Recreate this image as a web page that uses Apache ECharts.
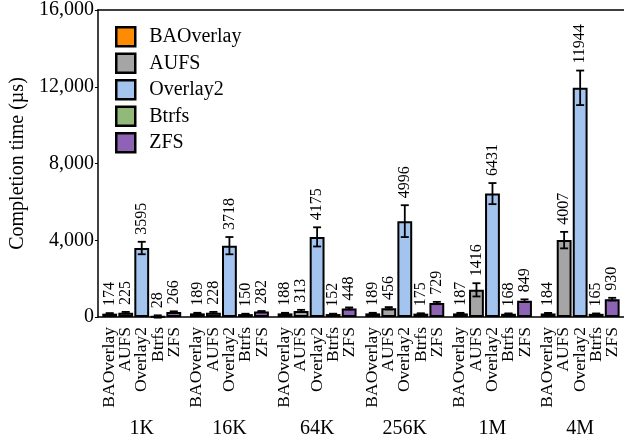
<!DOCTYPE html>
<html>
<head>
<meta charset="utf-8">
<script src="https://cdn.jsdelivr.net/npm/echarts@6/dist/echarts.min.js"></script>
<style>html,body{margin:0;padding:0;background:#fff}#c{width:624px;height:440px}</style>
</head>
<body>
<div id="c"></div>
<script>
const categories = ['1K', '16K', '64K', '256K', '1M', '4M'];
const seriesNames = ['BAOverlay', 'AUFS', 'Overlay2', 'Btrfs', 'ZFS'];
const baoverlay = [174, 189, 188, 189, 187, 184];
const aufs = [225, 228, 313, 456, 1416, 4007];
const overlay2 = [3595, 3718, 4175, 4996, 6431, 11944];
const btrfs = [28, 150, 152, 175, 168, 165];
const zfs = [266, 282, 448, 729, 849, 930];
const baoverlayErr = [30, 30, 30, 30, 30, 30];
const aufsErr = [40, 40, 60, 60, 345, 430];
const overlay2Err = [325, 450, 500, 830, 550, 900];
const btrfsErr = [60, 20, 20, 20, 20, 20];
const zfsErr = [30, 30, 50, 60, 70, 70];
const yTicks = [0, 4000, 8000, 12000, 16000];

const values = [baoverlay, aufs, overlay2, btrfs, zfs];
const errors = [baoverlayErr, aufsErr, overlay2Err, btrfsErr, zfsErr];
const colors = ['#ff8c00', '#a5a5a5', '#a4c4f0', '#93b97a', '#8e62b5'];
const FONT = 'Liberation Serif';
const CAT_GAP = 0.10, BAR_GAP = 0.08;

const chart = echarts.init(document.getElementById('c'), null, {renderer: 'canvas'});

const barSeries = seriesNames.map((n, i) => ({
  name: n, type: 'bar', data: values[i],
  barCategoryGap: (CAT_GAP * 100) + '%', barGap: (BAR_GAP * 100) + '%',
  itemStyle: {color: colors[i], borderColor: '#000', borderWidth: 2},
  emphasis: {disabled: true}
}));

const errSeries = seriesNames.map((n, i) => ({
  type: 'custom', name: n + '_err', silent: true, z: 5,
  data: values[i].map((v, k) => [k, v, errors[i][k]]),
  renderItem: function (params, api) {
    const k = api.value(0), v = api.value(1), e = api.value(2);
    const band = api.size([1, 0])[0];
    const w = band * (1 - CAT_GAP) / (5 + 4 * BAR_GAP);
    const pitch = w * (1 + BAR_GAP);
    const c = api.coord([k, v]);
    const x = c[0] + (i - 2) * pitch;
    const top = api.coord([k, v + e])[1];
    const bot = api.coord([k, v - e])[1];
    const cap = 4;
    const st = {stroke: '#000', lineWidth: 1.8};
    return {type: 'group', children: [
      {type: 'line', shape: {x1: x, y1: top, x2: x, y2: bot}, style: st},
      {type: 'line', shape: {x1: x - cap, y1: top, x2: x + cap, y2: top}, style: st},
      {type: 'line', shape: {x1: x - cap, y1: bot, x2: x + cap, y2: bot}, style: st},
      {type: 'text', x: x, y: top - 7, rotation: Math.PI / 2,
       style: {text: String(v), align: 'left', verticalAlign: 'middle',
               font: '16px "' + FONT + '"', fill: '#000'}}
    ]};
  }
}));

chart.setOption({
  animation: false,
  textStyle: {fontFamily: FONT, color: '#000'},
  grid: {left: 88, right: 0, top: 6, bottom: 123, containLabel: false},
  legend: {
    data: seriesNames, orient: 'vertical', left: 115, top: 26, padding: 0,
    itemWidth: 19, itemHeight: 19, itemGap: 5, icon: 'rect',
    itemStyle: {borderColor: '#000', borderWidth: 2.5},
    textStyle: {fontFamily: FONT, fontSize: 20, lineHeight: 19, color: '#000', padding: [0, 0, 0, 9]}
  },
  xAxis: [
    {type: 'category', data: categories, position: 'bottom',
     axisLine: {show: true, lineStyle: {color: '#000', width: 1.5}},
     axisTick: {show: false},
     axisLabel: {interval: 0, rotate: 90, margin: 10, fontFamily: FONT, fontSize: 17.5,
       color: '#000', lineHeight: 16.3,
       formatter: () => seriesNames.join('\n')}},
    {type: 'category', data: categories, position: 'bottom',
     axisLine: {show: false}, axisTick: {show: false},
     axisLabel: {interval: 0, margin: 102, fontFamily: FONT, fontSize: 20, color: '#000'}},
    {type: 'category', data: categories, position: 'top',
     axisLine: {show: true, lineStyle: {color: '#000', width: 1.5}},
     axisTick: {show: false}, axisLabel: {show: false}}
  ],
  yAxis: {
    type: 'value', min: yTicks[0], max: yTicks[yTicks.length - 1], interval: 4000,
    name: 'Completion time (µs)', nameLocation: 'middle', nameGap: 62,
    nameTextStyle: {fontFamily: FONT, fontSize: 20, color: '#000'},
    axisLine: {show: true, lineStyle: {color: '#000', width: 1.5}},
    axisTick: {show: true, inside: false, length: 3, lineStyle: {color: '#000'}},
    splitLine: {show: false},
    axisLabel: {margin: 4, fontFamily: FONT, fontSize: 20, color: '#000',
      formatter: v => v.toLocaleString('en-US')}
  },
  series: barSeries.concat(errSeries)
});
</script>
</body>
</html>
